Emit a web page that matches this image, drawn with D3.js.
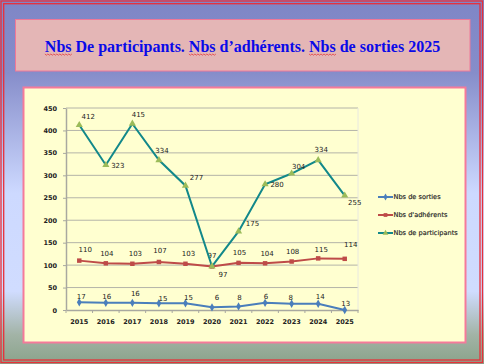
<!DOCTYPE html>
<html lang="fr">
<head>
<meta charset="utf-8">
<title>Nbs 2025</title>
<script src="https://d3js.org/d3.v7.min.js"></script>
<style>
  body { margin: 0; padding: 0; }
  svg { display: block; }
</style>
</head>
<body>
<script>
// données
var annees = ["2015","2016","2017","2018","2019","2020","2021","2022","2023","2024","2025"];
var sorties = [17, 16, 16, 15, 15, 6, 8, 16, 14, 14, 0];
var sortiesLabels = ["17","16","16","15","15","6","8","6","8","14","13"];
var adherents = [110, 104, 103, 107, 103, 97, 105, 104, 108, 115, 114];
var participants = [412, 323, 415, 334, 277, 97, 175, 280, 304, 334, 255];
var yTicks = [0, 50, 100, 150, 200, 250, 300, 350, 400, 450];
var seriesNames = ["Nbs de sorties", "Nbs d'adhérents", "Nbs de participants"];
var titre = "Nbs De participants. Nbs d\u2019adhérents. Nbs de sorties 2025";

// décalages des étiquettes (dx, dy), relevés à la main
var nudgeSorties = [[2,-6],[1,-6],[3,-9],[4,-5],[3,-6],[5,-10],[1,-9],[1,-6],[-1,-6],[2,-7],[1,-7]];
var nudgeAdh = [[6,-11],[1,-10],[3,-10],[1,-11],[3,-10],[0,-11],[1,-10],[2,-10],[1,-10],[3,-9],[6,-14]];
var nudgePart = [[9,-9],[12,0],[6,-9],[3,-10],[11,-8],[11,8],[14,-8],[12,0],[7,-7],[3,-11],[10,7]];

var W = 484, H = 364;
var svg = d3.select("body").append("svg").attr("width", W).attr("height", H);

var defs = svg.append("defs");
var grad = defs.append("linearGradient").attr("id", "bg").attr("x1", 0).attr("y1", 0).attr("x2", 0).attr("y2", 1);
[[0,"#7f86c6"],[0.2,"#868dca"],[0.53,"#cdd9ff"],[0.8,"#d0dcff"],[0.92,"#a2b3a6"],[1,"#8aa38a"]].forEach(function(s){
  grad.append("stop").attr("offset", s[0]).attr("stop-color", s[1]);
});

svg.append("rect").attr("width", W).attr("height", H).attr("fill", "url(#bg)");
svg.append("rect").attr("x", 1).attr("y", 1).attr("width", 481.5).attr("height", 361.5)
   .attr("fill", "none").attr("stroke", "#e8303a").attr("stroke-width", 1.3);
svg.append("rect").attr("x", 3.7).attr("y", 3.7).attr("width", 476.3).attr("height", 356.3)
   .attr("fill", "none").attr("stroke", "#e8303a").attr("stroke-width", 1.3);

// bandeau titre
svg.append("rect").attr("x", 15.5).attr("y", 19.5).attr("width", 454.5).attr("height", 51.5)
   .attr("fill", "#e4b6b6").attr("stroke", "#f07898").attr("stroke-width", 1);
var t = svg.append("text").attr("x", 242.5).attr("y", 52)
   .attr("text-anchor", "middle")
   .attr("font-family", "Liberation Serif, Times New Roman, serif")
   .attr("font-weight", "bold").attr("font-size", "16px")
   .attr("fill", "#0a0ae8").text(titre);

// soulignés rouges sous "Nbs"
var node = t.node();
var idx = [];
var p = titre.indexOf("Nbs");
while (p >= 0) { idx.push(p); p = titre.indexOf("Nbs", p + 1); }
idx.forEach(function(i){
  var x0 = node.getStartPositionOfChar(i).x;
  var x1 = node.getEndPositionOfChar(i + 2).x;
  var d = "M" + x0 + ",54";
  for (var x = x0, k = 0; x < x1; x += 1.5, k++) d += " L" + (x + 1.5) + "," + (k % 2 ? 54 : 55.2);
  svg.append("path").attr("d", d).attr("fill", "none").attr("stroke", "#e03030").attr("stroke-width", 0.7);
});

// cadre du graphique
svg.append("rect").attr("x", 23.5).attr("y", 87.5).attr("width", 442).attr("height", 255)
   .attr("fill", "#ffffd0").attr("stroke", "#f57a9a").attr("stroke-width", 2);

var plot = { left: 66, right: 358, top: 108, bottom: 310 };
var x = d3.scaleBand().domain(annees).range([plot.left, plot.right]);
var y = d3.scaleLinear().domain([0, 450]).range([plot.bottom, plot.top]);
var cx = function(d, i){ return x(annees[i]) + x.bandwidth() / 2; };

// grille
svg.append("g").selectAll("line").data(yTicks.slice(1)).enter().append("line")
   .attr("x1", plot.left).attr("x2", plot.right)
   .attr("y1", function(d){ return y(d); }).attr("y2", function(d){ return y(d); })
   .attr("stroke", "#b4b4a8").attr("stroke-width", 1);
svg.append("line").attr("x1", plot.right).attr("x2", plot.right).attr("y1", plot.top).attr("y2", plot.bottom)
   .attr("stroke", "#e8e8e0");

var font = "DejaVu Sans, Verdana, sans-serif";

// axes
var yAxis = svg.append("g").attr("transform", "translate(" + plot.left + ",0)")
   .call(d3.axisLeft(y).tickValues(yTicks).tickSize(3).tickSizeOuter(0));
var xAxis = svg.append("g").attr("transform", "translate(0," + plot.bottom + ")")
   .call(d3.axisBottom(x).tickSize(3).tickSizeOuter(0).tickValues(annees));
xAxis.selectAll(".tick line").attr("transform", "translate(" + (-x.bandwidth() / 2) + ",0)");
[yAxis, xAxis].forEach(function(a){
  a.select(".domain").attr("stroke", "#a8a8a0").attr("stroke-width", 1.5);
  a.selectAll(".tick line").attr("stroke", "#a8a8a0");
  a.selectAll("text").attr("font-family", font).attr("font-size", "6.5px")
   .attr("font-weight", "bold").attr("fill", "#222");
});
yAxis.selectAll("text").attr("dx", "-3px");
xAxis.selectAll("text").attr("dy", "1.2em");
xAxis.append("line").attr("x1", plot.right).attr("x2", plot.right).attr("y1", 0).attr("y2", 3).attr("stroke", "#a8a8a0");

var series = [
  { name: seriesNames[0], values: sorties, labels: sortiesLabels, nudge: nudgeSorties, color: "#4a7ebb", marker: "diamond", mfill: "#4a7ebb" },
  { name: seriesNames[1], values: adherents, labels: adherents, nudge: nudgeAdh, color: "#be4b48", marker: "square", mfill: "#be4b48" },
  { name: seriesNames[2], values: participants, labels: participants, nudge: nudgePart, color: "#12888a", marker: "triangle", mfill: "#9bbb59" }
];

var symbolOf = { diamond: d3.symbolDiamond, square: d3.symbolSquare, triangle: d3.symbolTriangle };
var symSize = { diamond: 20, square: 20, triangle: 22 };
var line = d3.line().x(cx).y(function(d){ return y(d); });

series.forEach(function(s){
  svg.append("path").datum(s.values).attr("d", line)
     .attr("fill", "none").attr("stroke", s.color).attr("stroke-width", 2);
  svg.append("g").selectAll("path").data(s.values).enter().append("path")
     .attr("d", d3.symbol().type(symbolOf[s.marker]).size(symSize[s.marker]))
     .attr("transform", function(d, i){ return "translate(" + cx(d, i) + "," + y(d) + ")"; })
     .attr("fill", s.mfill);
  svg.append("g").selectAll("text").data(s.values).enter().append("text")
     .attr("x", function(d, i){ return cx(d, i) + s.nudge[i][0]; })
     .attr("y", function(d, i){ return y(d) + s.nudge[i][1] + 2.5; })
     .attr("text-anchor", "middle")
     .attr("font-family", font).attr("font-size", "7px").attr("fill", "#222")
     .text(function(d, i){ return s.labels[i]; });
});

// légende
var leg = svg.append("g");
var legY = [197, 215, 233];
series.forEach(function(s, i){
  leg.append("line").attr("x1", 378).attr("x2", 393).attr("y1", legY[i]).attr("y2", legY[i])
     .attr("stroke", s.color).attr("stroke-width", 2);
  leg.append("path").attr("d", d3.symbol().type(symbolOf[s.marker]).size(14))
     .attr("transform", "translate(385.5," + legY[i] + ")").attr("fill", s.mfill);
  leg.append("text").attr("x", 393.5).attr("y", legY[i] + 2.3)
     .attr("font-family", font).attr("font-size", "6.6px").attr("fill", "#222")
     .attr("stroke", "#222").attr("stroke-width", 0.15)
     .text(s.name);
});
</script>
</body>
</html>
